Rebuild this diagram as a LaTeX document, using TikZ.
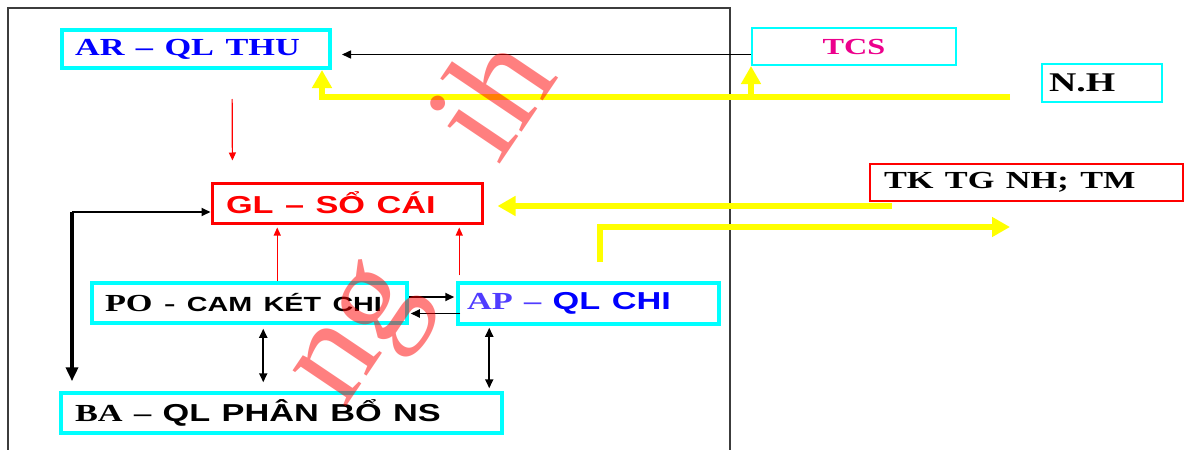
\documentclass[tikz,border=0pt]{standalone}
\usepackage{fontspec}
\setmainfont{Liberation Serif}
\setsansfont{Liberation Sans}
\usepackage{graphicx}
\usetikzlibrary{arrows.meta,positioning,calc}
\definecolor{aqua}{RGB}{0,255,255}
\definecolor{ylw}{RGB}{255,255,0}
\definecolor{frame}{RGB}{60,60,60}
\definecolor{apblue}{RGB}{80,60,255}
\newcommand{\wtxt}[1]{\scalebox{1.4}[1]{#1}}

\begin{document}
\begin{tikzpicture}[x=1pt,y=-1pt,
			box/.style={
				rectangle, inner sep=0pt, align=left,
				font=\fontsize{24.5}{28}\selectfont},
			cyan box/.style={box, draw=aqua, line width=3.5pt},
			red box/.style={box, draw=red, line width=3pt},
			yline/.style={draw=ylw, line width=6pt},
			yarrow/.style={yline, -{Triangle[length=18pt,width=19pt]}},
			blk/.style={draw=black, line width=1.8pt, -{Triangle[length=9pt,width=8pt]}},
			red arrow/.style={draw=red, line width=1.2pt, -{Triangle[length=8pt,width=7pt]}},
			wm/.style={text=red, text opacity=0.5, inner sep=0pt,
				font=\fontsize{140}{140}\selectfont}
			]
			\useasboundingbox (0,0) rectangle (1187,450);
			\draw[frame, line width=1.5pt] (8,450) -- (8,8) -- (730,8) -- (730,450);
			
			\node[cyan box, line width=4pt, minimum width=268pt, minimum height=38pt,
			text width=242pt, inner xsep=13pt] (1) at (196,49)
			{\wtxt{\bfseries\color{blue}AR – QL THU}};
			\node[cyan box, line width=2pt, minimum width=204pt, minimum height=37pt,
			text width=180pt, align=center, font=\fontsize{23}{26}\selectfont] (2) at (854,46.5)
			{\wtxt{\bfseries\color{magenta}TCS}};
			\node[cyan box, line width=2pt, minimum width=120pt, minimum height=38pt,
			text width=106pt, inner xsep=7pt, font=\fontsize{27}{30}\selectfont] (3) at (1102,83)
			{\wtxt{\bfseries N.H}};
			\node[box, draw=red, line width=1.5pt, minimum width=313pt, minimum height=37pt,
			text width=285pt, inner xsep=14pt] (4) at (1026.5,182.5)
			{\wtxt{\bfseries TK TG NH; TM}};
			\node[red box, minimum width=270pt, minimum height=40pt,
			text width=242pt, inner xsep=14pt] (5) at (347,203)
			{\wtxt{\sffamily\bfseries\color{red}GL – SỔ CÁI}};
			\node[cyan box, minimum width=315pt, minimum height=40pt,
			text width=289pt, inner xsep=13pt] (6) at (249.5,303)
			{\wtxt{\bfseries PO - {\sffamily\fontsize{20.5}{24}\selectfont CAM KÉT CHI}}};
			\node[cyan box, minimum width=261pt, minimum height=41pt,
			text width=243pt, inner xsep=9pt] (7) at (588.5,303.5)
			{\wtxt{\bfseries\color{apblue}AP – {\sffamily\color{blue}QL CHI}}};
			\node[cyan box, minimum width=441pt, minimum height=40pt,
			text width=413pt, inner xsep=14pt] (8) at (281.5,413)
			{\wtxt{\bfseries BA – {\sffamily QL PHÂN BỔ NS}}};
			
			% luong vang
			\coordinate (nh) at (1010,97);
			\coordinate (tk) at (892,206);
			\coordinate (po) at (600,262);
			\coordinate (goc) at (72,212);
			\draw[yarrow] (nh) -| ([xshift=-10pt]1.south east);
			\draw[yarrow] (2.south west |- nh) -- (2.south west);
			\draw[yarrow, shorten >=14pt] (tk) -- (tk -| 5.east);
			\draw[yarrow] (po) |- (1010,227);
			
			% mui ten den
			\draw[blk, line width=1.5pt, shorten >=10pt] ([yshift=-8pt]2.west) -- ([yshift=-8pt]2.west -| 1.east);
			\draw[blk] (goc) -- (goc -| 5.west);
			\draw[blk, line width=3.5pt, -{Triangle[length=14pt,width=12pt]}, shorten >=10pt] (goc) -- (goc |- 8.north);
			\draw[blk, shorten >=2pt] ([yshift=6pt]6.east) -- ([yshift=6pt]6.east -| 7.west);
			\draw[blk, shorten <=-4pt, shorten >=2pt] ([yshift=-10pt]7.west) -- ([yshift=-10pt]7.west -| 6.east);
			\draw[blk, {Triangle[length=9pt,width=8pt]}-{Triangle[length=9pt,width=8pt]}, shorten <=4pt, shorten >=9pt]
			([xshift=173pt]6.south west) -- ([xshift=173pt]6.south west |- 8.north);
			\draw[blk, {Triangle[length=9pt,width=8pt]}-{Triangle[length=9pt,width=8pt]}, shorten <=2pt, shorten >=3pt]
			([xshift=33pt]7.south west) -- ([xshift=33pt]7.south west |- 8.north);
			
			% mui ten do
			\draw[red arrow, shorten <=29pt, shorten >=21pt] ([xshift=172pt]1.south west) -- ([xshift=22pt]5.north west);
			\draw[red arrow, shorten >=3pt] ([xshift=187pt]6.north west) -- ([xshift=187pt]6.north west |- 5.south);
			\draw[red arrow, shorten >=3pt] ([xshift=3pt,yshift=6pt]7.north west) -- ([xshift=3pt]7.north west |- 5.south);
			
			% chu mo
			\node[wm, rotate=56] (w1) at (366,340) {ng};
			\node[wm, rotate=56] (w2) at (489,94) {ih};
		\end{tikzpicture}
\end{document}
